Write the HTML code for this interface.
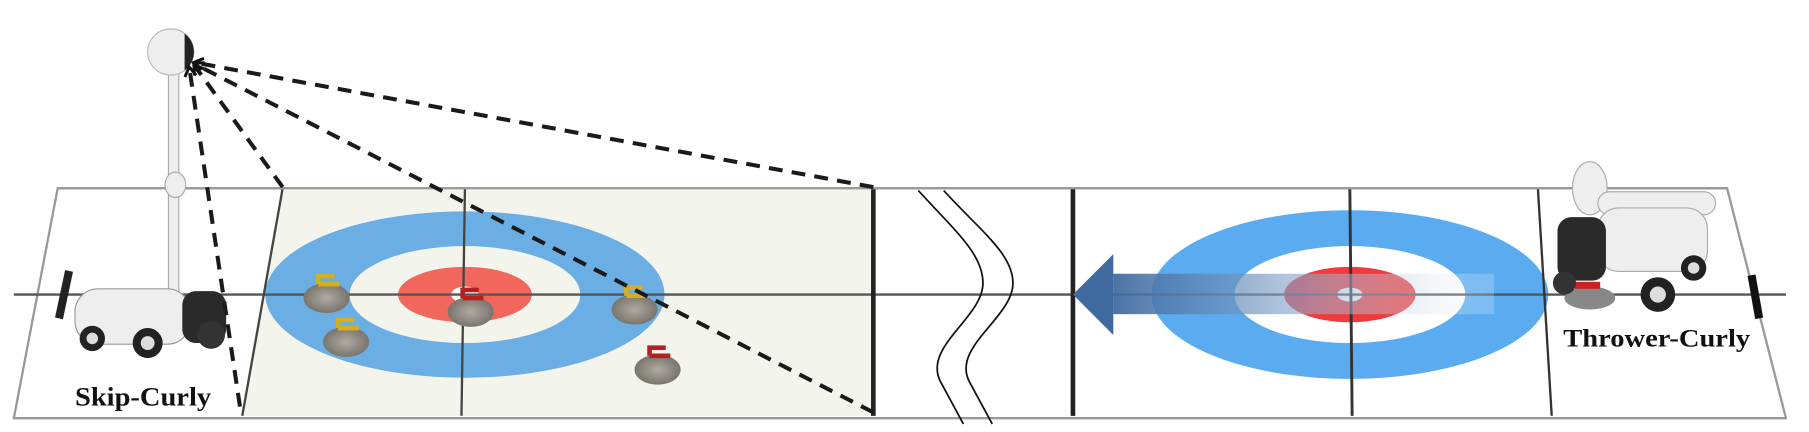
<!DOCTYPE html>
<html><head><style>
html,body{margin:0;padding:0;background:#fff;}
svg{display:block}
</style></head><body>
<svg width="1809" height="432" viewBox="0 0 1568 374" preserveAspectRatio="none" xmlns="http://www.w3.org/2000/svg">
<defs>
<linearGradient id="ag" x1="0" x2="1" y1="0" y2="0">
<stop offset="0" stop-color="#3f6aa0" stop-opacity="0.95"/>
<stop offset="0.5" stop-color="#8aa8cc" stop-opacity="0.6"/>
<stop offset="1" stop-color="#ffffff" stop-opacity="0.2"/>
</linearGradient>
<radialGradient id="st" cx="0.5" cy="0.5" r="0.6">
<stop offset="0" stop-color="#b0aaa0"/><stop offset="1" stop-color="#6e6a63"/>
</radialGradient>
<marker id="ah" markerUnits="userSpaceOnUse" markerWidth="14" markerHeight="14" refX="10" refY="7" orient="auto">
<path d="M2,2 L10,7 L2,12" fill="none" stroke="#111" stroke-width="2.5"/>
</marker>
</defs>
<!-- rink -->
<polygon points="50,163 1497,163 1548,362 12,362" fill="#fff" stroke="#999" stroke-width="2"/>
<polygon points="245,163 757,163 757,360 210,360" fill="#f3f5ec"/>
<!-- left house -->
<ellipse cx="403" cy="255" rx="173" ry="72" fill="#6aaee3"/>
<ellipse cx="403" cy="255" rx="100" ry="42" fill="#f3f5ec"/>
<ellipse cx="403" cy="255" rx="58" ry="24" fill="#f2675c"/>
<ellipse cx="403" cy="255" rx="12" ry="7" fill="#fff"/>
<!-- right house -->
<ellipse cx="1170" cy="255" rx="172" ry="73" fill="#5aabf0"/>
<ellipse cx="1170" cy="255" rx="100" ry="42" fill="#fff"/>
<ellipse cx="1170" cy="255" rx="57" ry="24" fill="#ef3b3b"/>
<ellipse cx="1170" cy="255" rx="11" ry="6" fill="#fff"/>
<!-- lines -->
<line x1="12" y1="255" x2="1548" y2="255" stroke="#555" stroke-width="2"/>
<line x1="245" y1="163" x2="210" y2="360" stroke="#444" stroke-width="2"/>
<line x1="403" y1="163" x2="400" y2="360" stroke="#444" stroke-width="2"/>
<line x1="757" y1="163" x2="757" y2="360" stroke="#222" stroke-width="4"/>
<line x1="930" y1="163" x2="930" y2="360" stroke="#222" stroke-width="4"/>
<line x1="1170" y1="163" x2="1172" y2="360" stroke="#333" stroke-width="2.5"/>
<line x1="1333" y1="163" x2="1345" y2="360" stroke="#333" stroke-width="2"/>
<line x1="50" y1="163" x2="1497" y2="163" stroke="#999" stroke-width="2"/>
<line x1="12" y1="362" x2="1548" y2="362" stroke="#999" stroke-width="2"/>
<!-- wavy -->
<path d="M818,165 C850,200 878,220 878,245 C878,275 825,300 840,330 L860,367" fill="none" stroke="#111" stroke-width="1.5"/>
<path d="M796,165 C828,200 852,220 852,245 C852,275 800,300 815,330 L835,367" fill="none" stroke="#111" stroke-width="1.5"/>
<!-- arrow -->
<rect x="965" y="237" width="330" height="35" fill="url(#ag)"/>
<polygon points="930,255 965,220 965,290" fill="#3f6aa0"/>
<!-- stones -->
<g>
<ellipse cx="283" cy="258" rx="20" ry="13" fill="url(#st)"/><path d="M276,246 L276,239 L290,239 M276,246 L294,246" stroke="#d4b020" stroke-width="4" fill="none"/>
<ellipse cx="300" cy="296" rx="20" ry="13" fill="url(#st)"/><path d="M293,284 L293,277 L307,277 M293,284 L311,284" stroke="#d4b020" stroke-width="4" fill="none"/>
<ellipse cx="408" cy="270" rx="20" ry="13" fill="url(#st)"/><path d="M401,258 L401,251 L415,251 M401,258 L419,258" stroke="#b82020" stroke-width="4" fill="none"/>
<ellipse cx="550" cy="268" rx="20" ry="13" fill="url(#st)"/><path d="M543,256 L543,249 L557,249 M543,256 L561,256" stroke="#d4b020" stroke-width="4" fill="none"/>
<ellipse cx="570" cy="320" rx="20" ry="13" fill="url(#st)"/><path d="M563,308 L563,301 L577,301 M563,308 L581,308" stroke="#b82020" stroke-width="4" fill="none"/>
</g>
<!-- skip robot -->
<rect x="146" y="60" width="9" height="200" rx="4" fill="#eee" stroke="#aaa"/>
<ellipse cx="152" cy="160" rx="9" ry="11" fill="#eee" stroke="#aaa"/>
<circle cx="148" cy="45" r="20" fill="#eee" stroke="#bbb"/>
<path d="M160,29 A20,20 0 0 1 160,61 Z" fill="#222"/>
<rect x="65" y="250" width="100" height="48" rx="20" fill="#eee" stroke="#999"/>
<rect x="158" y="252" width="38" height="45" rx="12" fill="#2a2a2a"/>
<rect x="52" y="234" width="7" height="42" fill="#222" transform="rotate(12 55 255)"/>
<circle cx="80" cy="293" r="11" fill="#222"/><circle cx="80" cy="293" r="5" fill="#ddd"/>
<circle cx="128" cy="297" r="13" fill="#222"/><circle cx="128" cy="297" r="6" fill="#ddd"/>
<circle cx="183" cy="290" r="12" fill="#333"/>
<!-- thrower robot -->
<ellipse cx="1378" cy="163" rx="15" ry="23" fill="#eee" stroke="#aaa"/>
<rect x="1385" y="166" width="102" height="20" rx="10" fill="#eee" stroke="#aaa"/>
<rect x="1385" y="180" width="95" height="55" rx="18" fill="#eee" stroke="#aaa"/>
<rect x="1350" y="188" width="42" height="55" rx="12" fill="#2a2a2a"/>
<ellipse cx="1378" cy="258" rx="22" ry="10" fill="#888"/>
<rect x="1365" y="244" width="22" height="6" fill="#c22"/>
<circle cx="1437" cy="255" r="15" fill="#222"/><circle cx="1437" cy="255" r="7" fill="#ddd"/>
<circle cx="1468" cy="232" r="11" fill="#222"/><circle cx="1468" cy="232" r="5" fill="#ddd"/>
<circle cx="1356" cy="245" r="10" fill="#333"/>
<rect x="1518" y="238" width="7" height="38" fill="#111" transform="rotate(-10 1521 257)"/>
<!-- dashed sight lines -->
<g stroke="#1a1a1a" stroke-width="3.5" stroke-dasharray="12,8" fill="none">
<line x1="757" y1="162" x2="168" y2="54" marker-end="url(#ah)"/>
<line x1="245" y1="162" x2="168" y2="56" marker-end="url(#ah)"/>
<line x1="757" y1="357" x2="168" y2="55" marker-end="url(#ah)"/>
<line x1="208" y1="352" x2="164" y2="58" marker-end="url(#ah)"/>
</g>
<!-- labels -->
<text x="65" y="351" textLength="118" lengthAdjust="spacingAndGlyphs" font-family="'Liberation Serif',serif" font-weight="bold" font-size="23" fill="#111">Skip-Curly</text>
<text x="1355" y="300" textLength="162" lengthAdjust="spacingAndGlyphs" font-family="'Liberation Serif',serif" font-weight="bold" font-size="22" fill="#111">Thrower-Curly</text>
</svg>
</body></html>
